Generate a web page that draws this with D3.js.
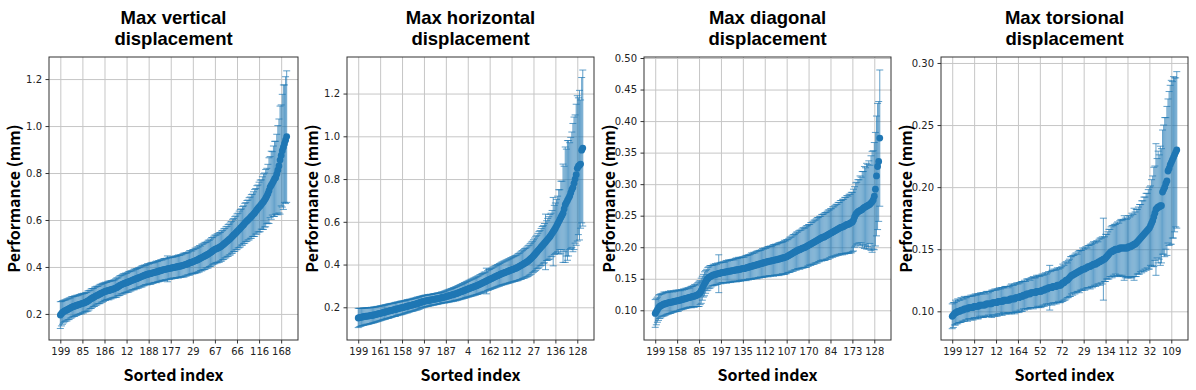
<!DOCTYPE html>
<html>
<head>
<meta charset="utf-8">
<script src="https://cdn.jsdelivr.net/npm/d3@7.9.0/dist/d3.min.js"></script>
<style>
  html, body { margin: 0; padding: 0; background: #fff; }
  svg { display: block; }
  .tick text { font-family: "DejaVu Sans", sans-serif; font-size: 10px; fill: #222; }
  .lbl { font-family: "Noto Sans CJK KR", "Noto Sans", sans-serif; font-weight: 700; fill: #000; }
  .ttl { font-family: "Liberation Sans", Arial, sans-serif; font-weight: 700; fill: #000; }
</style>
</head>
<body>
<svg id="chart" width="1196" height="390"></svg>
<script>
/* ---------- data: sorted means and error half-widths (mm) ---------- */
const titles = [
  ['Max vertical', 'displacement'],
  ['Max horizontal', 'displacement'],
  ['Max diagonal', 'displacement'],
  ['Max torsional', 'displacement']
];

const xTickPos = [0, 20, 40, 60, 80, 100, 120, 140, 160, 180, 200];
const vTicks = ['199', '85', '186', '12', '188', '177', '29', '67', '66', '116', '168'];
const hTicks = ['199', '161', '158', '97', '187', '4', '162', '112', '27', '136', '128'];
const dTicks = ['199', '158', '85', '197', '135', '112', '107', '170', '84', '173', '128'];
const tTicks = ['199', '127', '12', '164', '52', '72', '29', '134', '112', '32', '109'];

const vMean = [
  0.195, 0.201, 0.206, 0.210, 0.213, 0.215, 0.217, 0.220, 0.222, 0.225,
  0.228, 0.230, 0.232, 0.233, 0.235, 0.237, 0.238, 0.240, 0.242, 0.243,
  0.245, 0.246, 0.248, 0.250, 0.252, 0.255, 0.258, 0.262, 0.265, 0.268,
  0.270, 0.273, 0.276, 0.278, 0.280, 0.283, 0.285, 0.288, 0.290, 0.292,
  0.295, 0.296, 0.298, 0.299, 0.300, 0.302, 0.303, 0.305, 0.306, 0.308,
  0.310, 0.312, 0.315, 0.318, 0.321, 0.324, 0.326, 0.328, 0.330, 0.332,
  0.333, 0.335, 0.337, 0.339, 0.341, 0.343, 0.345, 0.347, 0.349, 0.350,
  0.352, 0.354, 0.356, 0.358, 0.360, 0.362, 0.364, 0.366, 0.367, 0.369,
  0.370, 0.371, 0.372, 0.374, 0.375, 0.376, 0.378, 0.379, 0.380, 0.382,
  0.383, 0.385, 0.386, 0.388, 0.389, 0.390, 0.391, 0.392, 0.393, 0.394,
  0.395, 0.396, 0.397, 0.398, 0.399, 0.400, 0.401, 0.402, 0.403, 0.404,
  0.405, 0.407, 0.408, 0.410, 0.411, 0.413, 0.415, 0.417, 0.419, 0.420,
  0.422, 0.424, 0.426, 0.428, 0.430, 0.432, 0.435, 0.437, 0.440, 0.442,
  0.445, 0.447, 0.450, 0.452, 0.455, 0.458, 0.461, 0.465, 0.468, 0.472,
  0.475, 0.477, 0.479, 0.481, 0.483, 0.486, 0.489, 0.493, 0.497, 0.501,
  0.505, 0.509, 0.513, 0.517, 0.521, 0.526, 0.531, 0.536, 0.540, 0.545,
  0.550, 0.555, 0.560, 0.565, 0.570, 0.575, 0.580, 0.586, 0.591, 0.596,
  0.600, 0.605, 0.610, 0.615, 0.620, 0.625, 0.630, 0.637, 0.643, 0.649,
  0.655, 0.660, 0.666, 0.672, 0.678, 0.685, 0.693, 0.702, 0.712, 0.725,
  0.740, 0.748, 0.756, 0.765, 0.775, 0.780, 0.795, 0.812, 0.830, 0.855,
  0.875, 0.895, 0.910, 0.925, 0.940, 0.955
];
const vErr = [
  0.057, 0.052, 0.050, 0.048, 0.046, 0.045, 0.047, 0.044, 0.046, 0.043,
  0.045, 0.043, 0.042, 0.044, 0.041, 0.043, 0.040, 0.042, 0.041, 0.043,
  0.040, 0.042, 0.039, 0.041, 0.040, 0.043, 0.041, 0.039, 0.042, 0.040,
  0.038, 0.041, 0.039, 0.040, 0.037, 0.039, 0.041, 0.038, 0.040, 0.039,
  0.037, 0.039, 0.036, 0.038, 0.040, 0.037, 0.039, 0.036, 0.038, 0.037,
  0.039, 0.041, 0.038, 0.040, 0.042, 0.039, 0.041, 0.043, 0.040, 0.042,
  0.040, 0.042, 0.044, 0.041, 0.043, 0.040, 0.042, 0.044, 0.041, 0.043,
  0.042, 0.044, 0.041, 0.043, 0.045, 0.042, 0.044, 0.041, 0.043, 0.045,
  0.042, 0.044, 0.046, 0.043, 0.045, 0.042, 0.044, 0.046, 0.043, 0.045,
  0.044, 0.046, 0.043, 0.045, 0.047, 0.044, 0.046, 0.055, 0.045, 0.047,
  0.045, 0.047, 0.044, 0.046, 0.048, 0.045, 0.047, 0.049, 0.046, 0.048,
  0.047, 0.049, 0.051, 0.048, 0.050, 0.047, 0.049, 0.052, 0.050, 0.048,
  0.052, 0.050, 0.054, 0.051, 0.055, 0.053, 0.056, 0.052, 0.057, 0.055,
  0.056, 0.058, 0.054, 0.057, 0.059, 0.056, 0.058, 0.060, 0.057, 0.059,
  0.061, 0.058, 0.062, 0.060, 0.063, 0.061, 0.064, 0.062, 0.065, 0.063,
  0.066, 0.064, 0.068, 0.066, 0.070, 0.068, 0.072, 0.070, 0.074, 0.072,
  0.076, 0.074, 0.078, 0.080, 0.077, 0.082, 0.080, 0.085, 0.083, 0.087,
  0.085, 0.090, 0.088, 0.093, 0.090, 0.095, 0.100, 0.097, 0.103, 0.100,
  0.106, 0.110, 0.105, 0.112, 0.118, 0.115, 0.122, 0.118, 0.125, 0.140,
  0.130, 0.145, 0.135, 0.150, 0.160, 0.155, 0.170, 0.190, 0.200, 0.230,
  0.215, 0.240, 0.265, 0.250, 0.270, 0.280
];

const hMean = [
  0.150, 0.152, 0.153, 0.154, 0.155, 0.156, 0.157, 0.158, 0.159, 0.159,
  0.160, 0.161, 0.162, 0.163, 0.164, 0.165, 0.166, 0.168, 0.169, 0.170,
  0.172, 0.173, 0.174, 0.176, 0.177, 0.178, 0.180, 0.181, 0.182, 0.184,
  0.185, 0.186, 0.188, 0.189, 0.190, 0.192, 0.193, 0.194, 0.196, 0.197,
  0.198, 0.199, 0.201, 0.202, 0.204, 0.205, 0.206, 0.208, 0.209, 0.210,
  0.212, 0.213, 0.215, 0.216, 0.218, 0.219, 0.221, 0.223, 0.225, 0.226,
  0.228, 0.229, 0.230, 0.231, 0.232, 0.233, 0.234, 0.235, 0.236, 0.237,
  0.238, 0.239, 0.240, 0.241, 0.242, 0.243, 0.245, 0.246, 0.247, 0.248,
  0.250, 0.251, 0.253, 0.254, 0.256, 0.257, 0.259, 0.260, 0.262, 0.263,
  0.265, 0.267, 0.269, 0.271, 0.273, 0.275, 0.277, 0.279, 0.281, 0.283,
  0.285, 0.287, 0.289, 0.291, 0.293, 0.295, 0.297, 0.299, 0.301, 0.303,
  0.305, 0.308, 0.310, 0.313, 0.315, 0.318, 0.320, 0.323, 0.325, 0.328,
  0.330, 0.333, 0.335, 0.338, 0.340, 0.343, 0.345, 0.348, 0.350, 0.352,
  0.355, 0.357, 0.359, 0.361, 0.363, 0.365, 0.367, 0.369, 0.371, 0.373,
  0.375, 0.377, 0.379, 0.381, 0.383, 0.385, 0.388, 0.391, 0.394, 0.397,
  0.400, 0.403, 0.406, 0.409, 0.412, 0.416, 0.420, 0.425, 0.430, 0.435,
  0.440, 0.446, 0.452, 0.458, 0.464, 0.470, 0.476, 0.482, 0.488, 0.494,
  0.500, 0.506, 0.512, 0.518, 0.524, 0.530, 0.538, 0.546, 0.554, 0.562,
  0.570, 0.580, 0.590, 0.600, 0.610, 0.620, 0.630, 0.640, 0.660, 0.680,
  0.690, 0.700, 0.710, 0.720, 0.735, 0.750, 0.760, 0.780, 0.800, 0.820,
  0.850, 0.860, 0.865, 0.870, 0.935, 0.945
];
const hErr = [
  0.045, 0.043, 0.042, 0.041, 0.040, 0.041, 0.039, 0.040, 0.038, 0.039,
  0.038, 0.037, 0.038, 0.036, 0.037, 0.036, 0.035, 0.036, 0.035, 0.034,
  0.035, 0.034, 0.033, 0.034, 0.033, 0.034, 0.032, 0.033, 0.034, 0.032,
  0.033, 0.032, 0.031, 0.032, 0.033, 0.031, 0.032, 0.030, 0.031, 0.032,
  0.031, 0.030, 0.031, 0.029, 0.030, 0.031, 0.029, 0.030, 0.028, 0.029,
  0.030, 0.029, 0.028, 0.029, 0.030, 0.028, 0.029, 0.028, 0.027, 0.028,
  0.027, 0.028, 0.026, 0.027, 0.028, 0.026, 0.027, 0.025, 0.026, 0.027,
  0.026, 0.025, 0.027, 0.026, 0.025, 0.026, 0.027, 0.025, 0.026, 0.028,
  0.027, 0.029, 0.028, 0.030, 0.029, 0.031, 0.030, 0.032, 0.031, 0.033,
  0.032, 0.034, 0.033, 0.035, 0.034, 0.036, 0.035, 0.037, 0.036, 0.038,
  0.037, 0.039, 0.038, 0.040, 0.039, 0.041, 0.040, 0.042, 0.041, 0.043,
  0.042, 0.044, 0.043, 0.045, 0.044, 0.046, 0.045, 0.060, 0.046, 0.048,
  0.047, 0.049, 0.048, 0.050, 0.049, 0.051, 0.050, 0.052, 0.051, 0.053,
  0.052, 0.054, 0.053, 0.055, 0.054, 0.056, 0.055, 0.057, 0.056, 0.058,
  0.057, 0.059, 0.058, 0.060, 0.059, 0.061, 0.063, 0.062, 0.064, 0.066,
  0.065, 0.067, 0.069, 0.068, 0.070, 0.072, 0.071, 0.073, 0.075, 0.074,
  0.076, 0.078, 0.080, 0.079, 0.082, 0.085, 0.083, 0.087, 0.090, 0.088,
  0.092, 0.130, 0.093, 0.098, 0.100, 0.104, 0.102, 0.107, 0.160, 0.115,
  0.118, 0.125, 0.130, 0.150, 0.140, 0.170, 0.160, 0.230, 0.200, 0.270,
  0.250, 0.280, 0.270, 0.250, 0.260, 0.270, 0.300, 0.310, 0.300, 0.330,
  0.340, 0.320, 0.350, 0.300, 0.340, 0.365
];

const dMean = [
  0.095, 0.098, 0.101, 0.104, 0.106, 0.107, 0.108, 0.109, 0.110, 0.110,
  0.111, 0.111, 0.112, 0.112, 0.113, 0.113, 0.113, 0.114, 0.114, 0.115,
  0.115, 0.115, 0.116, 0.116, 0.117, 0.117, 0.118, 0.118, 0.119, 0.119,
  0.120, 0.120, 0.121, 0.121, 0.122, 0.122, 0.123, 0.123, 0.124, 0.125,
  0.126, 0.128, 0.131, 0.135, 0.139, 0.142, 0.145, 0.148, 0.150, 0.152,
  0.153, 0.154, 0.155, 0.156, 0.156, 0.157, 0.157, 0.158, 0.158, 0.159,
  0.159, 0.160, 0.160, 0.160, 0.161, 0.161, 0.161, 0.162, 0.162, 0.162,
  0.163, 0.163, 0.163, 0.164, 0.164, 0.164, 0.165, 0.165, 0.165, 0.166,
  0.166, 0.166, 0.167, 0.167, 0.168, 0.168, 0.169, 0.169, 0.170, 0.170,
  0.171, 0.171, 0.172, 0.172, 0.173, 0.173, 0.174, 0.174, 0.175, 0.175,
  0.176, 0.176, 0.177, 0.177, 0.178, 0.178, 0.178, 0.179, 0.179, 0.180,
  0.180, 0.180, 0.181, 0.181, 0.182, 0.182, 0.183, 0.183, 0.184, 0.184,
  0.185, 0.186, 0.187, 0.188, 0.189, 0.190, 0.191, 0.192, 0.193, 0.194,
  0.195, 0.196, 0.196, 0.197, 0.198, 0.199, 0.199, 0.200, 0.201, 0.202,
  0.203, 0.204, 0.205, 0.206, 0.207, 0.208, 0.209, 0.210, 0.211, 0.212,
  0.213, 0.214, 0.215, 0.216, 0.216, 0.217, 0.218, 0.219, 0.220, 0.221,
  0.222, 0.223, 0.224, 0.225, 0.226, 0.227, 0.228, 0.229, 0.230, 0.231,
  0.232, 0.232, 0.233, 0.234, 0.235, 0.236, 0.236, 0.237, 0.238, 0.239,
  0.240, 0.243, 0.248, 0.252, 0.254, 0.256, 0.257, 0.258, 0.259, 0.260,
  0.262, 0.263, 0.264, 0.265, 0.266, 0.267, 0.268, 0.270, 0.272, 0.275,
  0.281, 0.292, 0.313, 0.328, 0.336, 0.373
];
const dErr = [
  0.022, 0.021, 0.020, 0.020, 0.019, 0.019, 0.018, 0.018, 0.019, 0.018,
  0.018, 0.017, 0.018, 0.017, 0.018, 0.017, 0.016, 0.017, 0.016, 0.017,
  0.016, 0.017, 0.016, 0.015, 0.016, 0.015, 0.016, 0.015, 0.016, 0.015,
  0.016, 0.015, 0.016, 0.017, 0.016, 0.017, 0.018, 0.017, 0.018, 0.019,
  0.020, 0.019, 0.020, 0.019, 0.018, 0.019, 0.018, 0.017, 0.018, 0.017,
  0.018, 0.017, 0.016, 0.017, 0.016, 0.017, 0.016, 0.017, 0.030, 0.016,
  0.017, 0.016, 0.017, 0.016, 0.017, 0.018, 0.017, 0.018, 0.017, 0.018,
  0.017, 0.018, 0.017, 0.018, 0.019, 0.018, 0.019, 0.018, 0.019, 0.018,
  0.019, 0.018, 0.019, 0.020, 0.019, 0.020, 0.019, 0.020, 0.021, 0.020,
  0.021, 0.020, 0.021, 0.022, 0.021, 0.022, 0.021, 0.022, 0.023, 0.022,
  0.023, 0.022, 0.023, 0.024, 0.023, 0.024, 0.023, 0.024, 0.025, 0.024,
  0.025, 0.024, 0.025, 0.026, 0.025, 0.026, 0.025, 0.026, 0.027, 0.026,
  0.027, 0.026, 0.027, 0.028, 0.027, 0.028, 0.029, 0.028, 0.029, 0.030,
  0.029, 0.030, 0.031, 0.030, 0.031, 0.032, 0.031, 0.032, 0.033, 0.032,
  0.033, 0.032, 0.034, 0.033, 0.034, 0.035, 0.034, 0.035, 0.036, 0.035,
  0.036, 0.035, 0.037, 0.036, 0.037, 0.038, 0.037, 0.038, 0.039, 0.038,
  0.039, 0.038, 0.040, 0.039, 0.040, 0.041, 0.040, 0.042, 0.041, 0.043,
  0.042, 0.044, 0.043, 0.045, 0.044, 0.046, 0.045, 0.047, 0.046, 0.048,
  0.047, 0.049, 0.048, 0.050, 0.049, 0.051, 0.050, 0.055, 0.052, 0.060,
  0.058, 0.065, 0.062, 0.068, 0.065, 0.070, 0.062, 0.075, 0.080, 0.078,
  0.085, 0.090, 0.095, 0.100, 0.095, 0.108
];

const tMean = [
  0.096, 0.097, 0.098, 0.099, 0.099, 0.100, 0.100, 0.100, 0.101, 0.101,
  0.101, 0.102, 0.102, 0.102, 0.102, 0.103, 0.103, 0.103, 0.103, 0.103,
  0.104, 0.104, 0.104, 0.104, 0.104, 0.105, 0.105, 0.105, 0.105, 0.105,
  0.105, 0.106, 0.106, 0.106, 0.106, 0.106, 0.106, 0.107, 0.107, 0.107,
  0.107, 0.107, 0.108, 0.108, 0.108, 0.108, 0.108, 0.109, 0.109, 0.109,
  0.109, 0.109, 0.109, 0.110, 0.110, 0.110, 0.110, 0.110, 0.111, 0.111,
  0.111, 0.111, 0.112, 0.112, 0.112, 0.113, 0.113, 0.113, 0.114, 0.114,
  0.114, 0.114, 0.115, 0.115, 0.115, 0.115, 0.115, 0.116, 0.116, 0.116,
  0.116, 0.116, 0.117, 0.117, 0.117, 0.118, 0.118, 0.118, 0.119, 0.119,
  0.119, 0.119, 0.120, 0.120, 0.120, 0.120, 0.121, 0.121, 0.121, 0.121,
  0.122, 0.123, 0.123, 0.124, 0.125, 0.125, 0.126, 0.127, 0.128, 0.129,
  0.129, 0.130, 0.130, 0.131, 0.131, 0.132, 0.132, 0.133, 0.133, 0.134,
  0.134, 0.134, 0.135, 0.135, 0.136, 0.136, 0.136, 0.137, 0.137, 0.138,
  0.138, 0.138, 0.139, 0.139, 0.140, 0.140, 0.141, 0.141, 0.142, 0.142,
  0.143, 0.144, 0.145, 0.146, 0.147, 0.148, 0.148, 0.149, 0.149, 0.150,
  0.150, 0.150, 0.150, 0.151, 0.151, 0.151, 0.151, 0.151, 0.151, 0.151,
  0.151, 0.152, 0.152, 0.152, 0.153, 0.153, 0.154, 0.154, 0.155, 0.156,
  0.157, 0.158, 0.159, 0.160, 0.161, 0.162, 0.163, 0.164, 0.165, 0.166,
  0.167, 0.169, 0.171, 0.173, 0.176, 0.179, 0.182, 0.183, 0.184, 0.184,
  0.185, 0.185, 0.196, 0.198, 0.200, 0.203, 0.205, 0.213, 0.215, 0.218,
  0.220, 0.222, 0.224, 0.226, 0.228, 0.230
];
const tErr = [
  0.010, 0.010, 0.009, 0.010, 0.009, 0.010, 0.009, 0.009, 0.010, 0.009,
  0.009, 0.010, 0.009, 0.009, 0.010, 0.009, 0.009, 0.010, 0.009, 0.010,
  0.009, 0.010, 0.009, 0.010, 0.010, 0.009, 0.010, 0.009, 0.010, 0.010,
  0.009, 0.010, 0.010, 0.009, 0.010, 0.010, 0.011, 0.010, 0.010, 0.011,
  0.010, 0.011, 0.010, 0.011, 0.010, 0.011, 0.011, 0.010, 0.011, 0.011,
  0.011, 0.010, 0.011, 0.011, 0.012, 0.011, 0.011, 0.012, 0.011, 0.012,
  0.011, 0.012, 0.011, 0.012, 0.012, 0.011, 0.012, 0.011, 0.012, 0.012,
  0.012, 0.011, 0.012, 0.012, 0.013, 0.012, 0.012, 0.013, 0.012, 0.013,
  0.012, 0.013, 0.013, 0.012, 0.013, 0.013, 0.012, 0.013, 0.013, 0.018,
  0.013, 0.014, 0.013, 0.014, 0.013, 0.014, 0.014, 0.013, 0.014, 0.014,
  0.014, 0.015, 0.014, 0.015, 0.015, 0.014, 0.015, 0.015, 0.016, 0.015,
  0.016, 0.015, 0.016, 0.016, 0.015, 0.016, 0.017, 0.016, 0.016, 0.017,
  0.016, 0.017, 0.017, 0.016, 0.017, 0.017, 0.018, 0.017, 0.018, 0.018,
  0.017, 0.018, 0.018, 0.017, 0.018, 0.019, 0.018, 0.019, 0.033, 0.018,
  0.019, 0.018, 0.019, 0.020, 0.019, 0.020, 0.021, 0.020, 0.021, 0.020,
  0.021, 0.022, 0.021, 0.022, 0.023, 0.022, 0.023, 0.026, 0.024, 0.023,
  0.024, 0.025, 0.024, 0.025, 0.026, 0.025, 0.029, 0.026, 0.027, 0.026,
  0.027, 0.028, 0.027, 0.029, 0.028, 0.030, 0.029, 0.031, 0.030, 0.032,
  0.033, 0.032, 0.035, 0.036, 0.040, 0.038, 0.053, 0.040, 0.045, 0.042,
  0.048, 0.046, 0.050, 0.052, 0.056, 0.053, 0.060, 0.058, 0.062, 0.064,
  0.066, 0.063, 0.065, 0.062, 0.060, 0.063
];

/* ---------- layout ---------- */
const panels = [
  { title: titles[0], mean: vMean, err: vErr, labels: vTicks, left: 49,  right: 298,
    yDomain: [0.089, 1.294],  yTicks: [0.2, 0.4, 0.6, 0.8, 1.0, 1.2], fmt: '.1f' },
  { title: titles[1], mean: hMean, err: hErr, labels: hTicks, left: 347, right: 594,
    yDomain: [0.047, 1.371],  yTicks: [0.2, 0.4, 0.6, 0.8, 1.0, 1.2], fmt: '.1f' },
  { title: titles[2], mean: dMean, err: dErr, labels: dTicks, left: 644, right: 891,
    yDomain: [0.0529, 0.5016], yTicks: [0.10, 0.15, 0.20, 0.25, 0.30, 0.35, 0.40, 0.45, 0.50], fmt: '.2f' },
  { title: titles[3], mean: tMean, err: tErr, labels: tTicks, left: 941, right: 1188,
    yDomain: [0.0769, 0.3048], yTicks: [0.10, 0.15, 0.20, 0.25, 0.30], fmt: '.2f' }
];
const plotTop = 57, plotBottom = 340;
const blue = '#1f77b4';

const svg = d3.select('#chart');

panels.forEach(p => {
  const n = p.mean.length;
  const pad = 0.05 * (n - 1);
  const x = d3.scaleLinear().domain([-pad, n - 1 + pad]).range([p.left, p.right]);
  const y = d3.scaleLinear().domain(p.yDomain).range([plotBottom, plotTop]);
  const w = p.right - p.left, h = plotBottom - plotTop;
  const g = svg.append('g');

  // grid
  g.append('g')
    .attr('transform', `translate(0,${plotBottom})`)
    .call(d3.axisBottom(x).tickValues(xTickPos).tickSize(-h).tickFormat(''))
    .call(a => a.select('.domain').remove())
    .selectAll('line').attr('stroke', '#c6c6c6').attr('stroke-width', 1);
  g.append('g')
    .attr('transform', `translate(${p.left},0)`)
    .call(d3.axisLeft(y).tickValues(p.yTicks).tickSize(-w).tickFormat(''))
    .call(a => a.select('.domain').remove())
    .selectAll('line').attr('stroke', '#c6c6c6').attr('stroke-width', 1);

  // error bars
  const rows = p.mean.map((m, i) => ({ i, m, e: p.err[i] }));
  const eb = g.append('g').attr('stroke', blue).attr('stroke-opacity', 0.7).attr('stroke-width', 1);
  eb.selectAll('line.v').data(rows).join('line').attr('class', 'v')
    .attr('x1', d => x(d.i)).attr('x2', d => x(d.i))
    .attr('y1', d => y(d.m - d.e)).attr('y2', d => y(d.m + d.e));
  eb.selectAll('line.cu').data(rows).join('line').attr('class', 'cu')
    .attr('x1', d => x(d.i) - 3.5).attr('x2', d => x(d.i) + 3.5)
    .attr('y1', d => y(d.m + d.e)).attr('y2', d => y(d.m + d.e));
  eb.selectAll('line.cl').data(rows).join('line').attr('class', 'cl')
    .attr('x1', d => x(d.i) - 3.5).attr('x2', d => x(d.i) + 3.5)
    .attr('y1', d => y(d.m - d.e)).attr('y2', d => y(d.m - d.e));

  // means
  g.append('g').selectAll('circle').data(rows).join('circle')
    .attr('cx', d => x(d.i)).attr('cy', d => y(d.m)).attr('r', 3.4).attr('fill', blue);

  // axes
  const xa = g.append('g').attr('transform', `translate(0,${plotBottom})`)
    .call(d3.axisBottom(x).tickValues(xTickPos).tickSize(3.5).tickPadding(4)
      .tickFormat((d, i) => p.labels[i]));
  const ya = g.append('g').attr('transform', `translate(${p.left},0)`)
    .call(d3.axisLeft(y).tickValues(p.yTicks).tickSize(3.5).tickPadding(3.5)
      .tickFormat(d3.format(p.fmt)));
  [xa, ya].forEach(a => {
    a.select('.domain').remove();
    a.selectAll('.tick line').attr('stroke', '#333');
  });

  // frame
  g.append('rect').attr('x', p.left).attr('y', plotTop).attr('width', w).attr('height', h)
    .attr('fill', 'none').attr('stroke', '#333').attr('stroke-width', 1);

  // titles and labels (two separate lines)
  const cx = (p.left + p.right) / 2;
  p.title.forEach((line, k) => {
    g.append('text').attr('class', 'ttl').attr('text-anchor', 'middle').attr('font-size', 18.5)
      .attr('x', cx).attr('y', 23.5 + k * 21.6).text(line);
  });

  g.append('text').attr('class', 'lbl').attr('text-anchor', 'middle').attr('font-size', 16)
    .attr('x', cx).attr('y', 381).text('Sorted index');
  g.append('text').attr('class', 'lbl').attr('text-anchor', 'middle').attr('font-size', 16)
    .attr('transform', `translate(${p.left - 29},${(plotTop + plotBottom) / 2}) rotate(-90)`)
    .text('Performance (mm)');
});
</script>
</body>
</html>
